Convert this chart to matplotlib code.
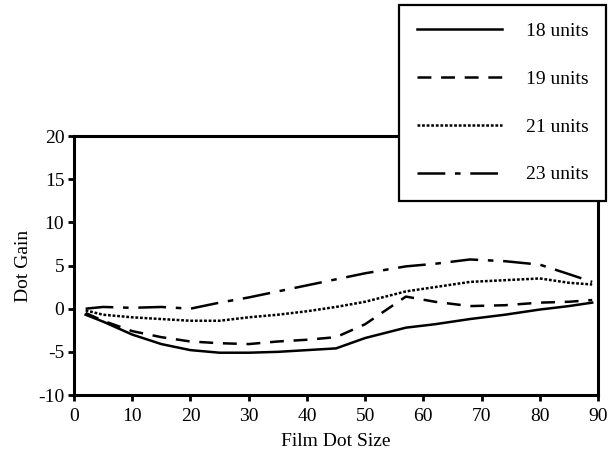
import matplotlib
matplotlib.use("Agg")
import matplotlib.pyplot as plt

plt.rcParams["font.family"] = ["Liberation Serif", "DejaVu Serif"]
plt.rcParams["lines.scale_dashes"] = False
plt.rcParams["axes.unicode_minus"] = False

dot_size = [2, 5, 10, 15, 20, 25, 30, 35, 40, 45, 50, 57, 62, 68, 74, 80, 85, 89]

gain_18 = [-0.7, -1.5, -3.0, -4.1, -4.8, -5.1, -5.1, -5.0, -4.8, -4.6, -3.4, -2.2,
           -1.8, -1.2, -0.7, -0.1, 0.3, 0.7]
gain_19 = [-0.5, -1.4, -2.6, -3.3, -3.8, -4.0, -4.1, -3.8, -3.6, -3.3, -1.8, 1.4,
           0.8, 0.3, 0.4, 0.7, 0.8, 1.0]
gain_21 = [-0.2, -0.7, -1.0, -1.2, -1.4, -1.4, -1.0, -0.7, -0.3, 0.2, 0.8, 2.0,
           2.5, 3.1, 3.3, 3.5, 3.0, 2.8]
gain_23 = [0.0, 0.2, 0.1, 0.2, 0.0, 0.7, 1.3, 2.0, 2.7, 3.4, 4.1, 4.9,
           5.2, 5.7, 5.5, 5.1, 4.0, 3.1]

labels = ["18 units", "19 units", "21 units", "23 units"]
x_ticks = [0, 10, 20, 30, 40, 50, 60, 70, 80, 90]
y_ticks = [-10, -5, 0, 5, 10, 15, 20]

fig = plt.figure(figsize=(6.08, 4.59), dpi=100)
ax = fig.add_axes([0.1217, 0.1394, 0.8619, 0.5643])

lw = 1.8
ax.plot(dot_size, gain_18, color="black", lw=lw, label=labels[0])
ax.plot(dot_size, gain_19, color="black", lw=lw, dashes=(10, 7), label=labels[1])
ax.plot(dot_size, gain_21, color="black", lw=lw, dashes=(2, 1.3), label=labels[2])
ax.plot(dot_size, gain_23, color="black", lw=lw, dashes=(20, 7, 4, 7), label=labels[3])

ax.set_xlim(0, 90)
ax.set_ylim(-10, 20)
ax.set_xticks(x_ticks)
ax.set_yticks(y_ticks)
ax.tick_params(direction="out", length=4, width=2, labelsize=14, pad=3, color="black")
ax.tick_params(axis="x", pad=5)
for s in ax.spines.values():
    s.set_linewidth(2.2)
ax.set_xlabel("Film Dot Size", fontsize=14, labelpad=6)
ax.set_ylabel("Dot Gain", fontsize=14, labelpad=4)

leg = fig.legend(loc="upper right", bbox_to_anchor=(0.9967, 0.989),
                 fontsize=14, frameon=True, fancybox=False, framealpha=1,
                 edgecolor="black", handlelength=4.4, handletextpad=1.2,
                 labelspacing=1.55, borderpad=0.9, borderaxespad=0)
leg.get_frame().set_linewidth(1.6)

fig.savefig("out.png", dpi=100)
